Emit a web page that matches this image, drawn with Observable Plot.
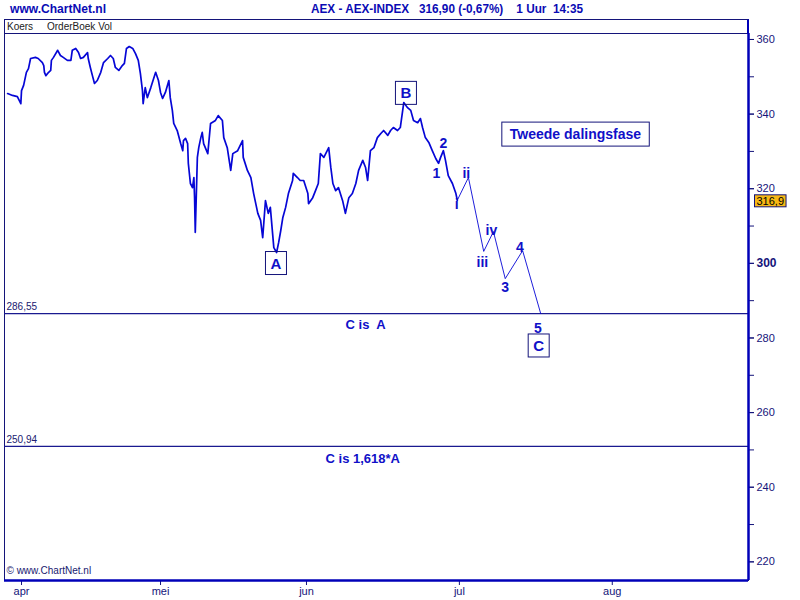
<!DOCTYPE html>
<html>
<head>
<meta charset="utf-8">
<script src="https://cdn.jsdelivr.net/npm/d3@7"></script>
<script src="https://cdn.jsdelivr.net/npm/@observablehq/plot@0.6"></script>
<style>
  html, body { margin: 0; padding: 0; background: #fff; }
  body { width: 800px; height: 600px; position: relative; overflow: hidden; font-family: "Liberation Sans", Arial, sans-serif; }
  .hdr { position: absolute; top: 1px; font-family: "Liberation Sans", Arial, sans-serif; font-weight: bold; font-size: 13px; color: #0a0ab4; white-space: pre; transform-origin: 0 50%; }
  #strip { position: absolute; top: 19px; left: 4px; width: 745px; height: 15px; box-sizing: border-box;
           border-top: 1px solid #14147a; border-left: 1px solid #14147a; border-right: 2px solid #0000b8; z-index: 2; }
  #strip span { position: absolute; top: 1px; font-size: 10px; color: #222; font-family: "Liberation Sans", Arial, sans-serif; }
  #chart { position: absolute; top: 19px; left: 0; }
</style>
</head>
<body>
<div class="hdr" id="h1" style="left:10px">www.ChartNet.nl</div>
<div class="hdr" id="h2" style="left:311px">AEX - AEX-INDEX   316,90 (-0,67%)    1 Uur  14:35</div>
<div id="strip"><span style="left:2px">Koers</span><span style="left:42px">OrderBoek Vol</span></div>
<div id="chart"></div>
<script>
// ---- data (x = trading-day index since 1 April, y = AEX level) ----
const tradingDay = [-2.0,-1.3,-0.6,-0.1,0.0,0.3,0.7,1.0,1.3,2.0,2.4,3.0,3.2,3.3,3.5,3.9,4.2,4.3,4.6,5.2,5.6,6.0,6.6,7.1,7.3,7.8,8.2,8.5,8.9,9.5,9.6,9.9,10.2,10.5,10.9,11.4,11.8,12.4,12.8,13.2,13.5,14.0,14.5,14.8,15.1,15.5,16.0,16.4,16.8,17.1,17.4,17.5,17.8,18.1,18.6,19.0,19.3,19.7,20.0,20.3,20.7,21.2,21.4,21.7,21.9,22.4,22.9,23.2,23.3,23.6,23.9,24.0,24.3,24.6,24.8,24.9,25.0,25.3,25.5,25.8,26.0,26.2,26.8,27.2,27.9,28.3,28.9,29.1,29.6,30.1,30.4,31.1,31.8,31.9,32.5,33.0,33.4,34.0,34.4,34.7,35.1,35.5,35.8,36.3,36.7,37.0,37.3,37.6,38.0,38.4,39.0,39.1,39.7,40.1,40.6,41.2,41.3,41.9,42.3,42.7,43.0,43.5,44.2,44.5,44.8,45.2,45.6,46.2,46.6,47.1,47.6,48.1,48.5,49.1,49.5,49.8,50.2,50.7,51.2,51.7,52.1,52.7,53.1,53.5,54.1,54.5,55.0,55.5,56.0,56.4,57.0,57.4,57.7,58.1,58.6,59.1,59.6,60.0,60.3,60.7,61.0,61.4,62.0,62.5,62.7];
const closeValue = [345.5,345.0,344.7,342.8,346.3,347.7,351.2,352.2,354.9,355.2,354.9,353.8,353.0,351.2,350.3,351.2,351.7,354.4,355.2,357.1,355.7,355.2,354.4,354.4,357.1,357.6,356.5,354.9,355.2,356.5,354.9,352.5,350.3,348.2,349.0,351.2,353.8,354.9,355.7,354.9,352.5,351.7,353.0,353.6,357.6,358.1,357.6,356.2,354.4,350.9,346.3,342.8,347.1,344.4,347.1,349.5,351.2,349.0,345.8,344.2,345.8,349.0,344.4,341.0,337.5,335.6,332.1,330.2,332.9,333.5,332.1,326.8,321.4,320.3,323.0,317.6,308.3,328.4,331.0,333.7,335.1,332.1,329.4,337.5,338.3,339.6,338.3,333.7,331.0,324.9,329.4,330.2,332.9,328.4,324.9,323.0,318.7,313.4,311.5,306.9,316.8,313.4,315.0,304.2,302.9,305.6,308.8,312.3,315.0,318.7,322.2,324.1,323.0,322.2,322.2,318.7,316.0,317.6,319.5,321.4,329.4,328.4,331.0,325.7,321.4,319.5,320.3,316.8,313.4,317.6,318.7,321.4,324.9,327.6,325.7,322.2,330.2,331.0,333.7,334.8,335.6,334.3,335.6,336.4,335.6,336.4,343.1,341.8,341.0,338.3,337.7,338.8,336.4,333.7,332.4,330.2,328.1,326.8,328.4,330.2,327.6,323.5,321.4,318.7,316.9];
const lastPrice = 316.9;
const lastPriceText = "316,9";

// projected wave path
const projDay = [62.7, 64.3, 66.5, 67.9, 69.6, 72.1, 74.7];
const projValue = [316.9, 323.0, 303.2, 308.5, 295.9, 303.4, 286.55];

// wave labels
const waveLabel = ["1","2","i","ii","iii","iv","3","4","5"];
const waveDay = [59.7, 60.7, 62.6, 64.0, 66.3, 67.6, 69.6, 71.7, 74.3];
const waveValue = [324.1, 332.1, 315.8, 324.1, 300.2, 308.8, 293.5, 304.2, 282.6];

// boxed wave labels
const boxLabel = ["A","B","C"];
const boxDay = [36.6, 55.3, 74.4];
const boxValue = [299.9, 345.5, 277.8];

// target levels
const levelValue = [286.55, 250.94];
const levelText = ["286,55", "250,94"];
const noteText = ["C is  A", "C is 1,618*A"];
const noteDay = [49.5, 49.1];
const noteValue = [283.6, 247.7];

// annotation box
const titleNote = ["Tweede dalingsfase"];
const titleNoteDay = [79.7];
const titleNoteValue = [334.5];

// axes
const monthDay = [0, 20, 41, 63, 85];
const monthLabel = ["apr", "mei", "jun", "jul", "aug"];
const yTicksMinor = d3.range(220, 361, 10);
const yTicksLabel = [220, 240, 260, 280, 320, 340, 360];
const yTicksBold = [300];
const xDomain = [-2.45, 104.6];
const yDomain = [215.0, 361.6];

// ---- styling ----
const navy = "#14147a";
const axisBlue = "#0000b8";
const lineBlue = "#0606d6";
const labelBlue = "#1010c8";

const idx = tradingDay.map((d, i) => i);
const pidx = projDay.map((d, i) => i);

const chart = Plot.plot({
  width: 800,
  height: 581,
  marginLeft: 4,
  marginRight: 52,
  marginTop: 14,
  marginBottom: 20,
  x: { domain: xDomain },
  y: { domain: yDomain },
  style: { fontFamily: "Liberation Sans, Arial, sans-serif", color: navy, background: "white", overflow: "visible" },
  marks: [
    Plot.frame({ stroke: navy, strokeWidth: 1 }),
    Plot.ruleY(levelValue, { y: d => d, stroke: "#1a1a90", strokeWidth: 1.2 }),
    Plot.text(levelValue, { y: d => d, text: (d, i) => levelText[i], frameAnchor: "left", textAnchor: "start", dx: 2, dy: -7, fontSize: 10, fill: "#202070" }),
    Plot.text(noteText, { x: (d, i) => noteDay[i], y: (d, i) => noteValue[i], text: d => d, fontSize: 13, fontWeight: "bold", fill: labelBlue }),
    Plot.line(idx, { x: i => tradingDay[i], y: i => closeValue[i], stroke: lineBlue, strokeWidth: 1.7, curve: "linear" }),
    Plot.line(pidx, { x: i => projDay[i], y: i => projValue[i], stroke: lineBlue, strokeWidth: 0.9 }),
    Plot.text(waveLabel, { x: (d, i) => waveDay[i], y: (d, i) => waveValue[i], text: d => d, fontSize: 14, fontWeight: "bold", fill: labelBlue }),
    Plot.text(boxLabel, { x: (d, i) => boxDay[i], y: (d, i) => boxValue[i], text: d => d, fontSize: 15, fontWeight: "bold", fill: labelBlue, className: "boxed" }),
    Plot.text(titleNote, { x: (d, i) => titleNoteDay[i], y: (d, i) => titleNoteValue[i], text: d => d, fontSize: 14, fontWeight: "bold", fill: labelBlue, className: "boxedwide" }),
    Plot.text(["© www.ChartNet.nl"], { frameAnchor: "bottom-left", textAnchor: "start", dx: 2, dy: -7, fontSize: 10, fill: "#202070" }),
    Plot.axisX(monthDay, { anchor: "bottom", tickSize: 5, tickPadding: 2, fontSize: 11, tickFormat: d => monthLabel[monthDay.indexOf(d)], label: null }),
    Plot.axisY(yTicksMinor, { anchor: "right", tickSize: 5, tickFormat: () => "", label: null }),
    Plot.axisY(yTicksLabel, { anchor: "right", tickSize: 5, tickPadding: 3, fontSize: 11, label: null }),
    Plot.axisY(yTicksBold, { anchor: "right", tickSize: 5, tickPadding: 3, fontSize: 12, fontWeight: "bold", label: null }),
    Plot.ruleX([xDomain[1]], { stroke: axisBlue, strokeWidth: 2.5 }),
    Plot.ruleY([yDomain[0]], { stroke: axisBlue, strokeWidth: 2.5 }),
    Plot.text([lastPrice], { x: () => xDomain[1], y: d => d, text: () => lastPriceText, textAnchor: "start", dx: 8, dy: 1, fontSize: 11, fill: "#000", className: "pricetag" })
  ]
});

document.getElementById("chart").appendChild(chart);

function boxify(cls, padX, padY, fill, stroke) {
  chart.querySelectorAll(`g.${cls} text`).forEach(t => {
    const b = t.getBBox();
    const r = document.createElementNS("http://www.w3.org/2000/svg", "rect");
    r.setAttribute("x", b.x - padX);
    r.setAttribute("y", b.y - padY);
    r.setAttribute("width", b.width + 2 * padX);
    r.setAttribute("height", b.height + 2 * padY);
    r.setAttribute("fill", fill);
    r.setAttribute("stroke", stroke);
    r.setAttribute("stroke-width", 1);
    const tr = t.getAttribute("transform");
    if (tr) r.setAttribute("transform", tr);
    t.parentNode.insertBefore(r, t);
  });
}
boxify("boxed", 5, 3, "none", navy);
boxify("boxedwide", 8, 4, "none", navy);
boxify("pricetag", 2, 0, "#f7b815", navy);

// condense header texts to the narrow width of the original
function fitWidth(id, target) {
  const el = document.getElementById(id);
  const w = el.getBoundingClientRect().width;
  if (w > 0) el.style.transform = `scaleX(${target / w})`;
}
fitWidth("h1", 96);
fitWidth("h2", 272);
</script>
</body>
</html>
